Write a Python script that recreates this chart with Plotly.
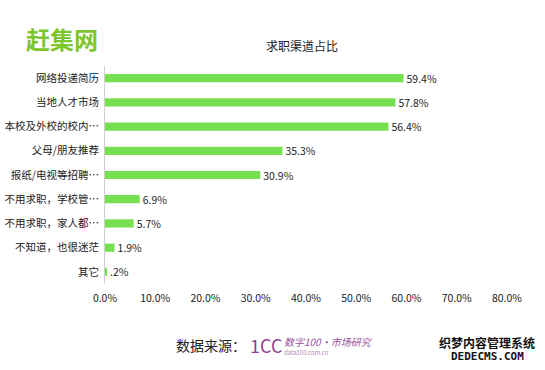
import plotly.graph_objects as go

categories = ["网络投递简历", "当地人才市场", "本校及外校的校内…", "父母/朋友推荐", "报纸/电视等招聘…",
              "不用求职，学校管…", "不用求职，家人都…", "不知道，也很迷茫", "其它"]
values = [59.4, 57.8, 56.4, 35.3, 30.9, 6.9, 5.7, 1.9, 0.2]
labels = ["59.4%", "57.8%", "56.4%", "35.3%", "30.9%", "6.9%", "5.7%", "1.9%", ".2%"]
tick_vals = [0, 10, 20, 30, 40, 50, 60, 70, 80]
tick_text = ["0.0%", "10.0%", "20.0%", "30.0%", "40.0%", "50.0%", "60.0%", "70.0%", "80.0%"]

FONT = "Noto Sans CJK SC, Microsoft YaHei, sans-serif"

L, R, T, B = 105, 38, 66, 86
W, H = 545, 370

fig = go.Figure(go.Bar(
    x=values, y=categories, orientation="h",
    marker=dict(color="#76E050", line=dict(width=0)),
    text=labels, textposition="outside", cliponaxis=False, constraintext="none",
    textfont=dict(size=10.5, color="#222222", family=FONT),
    width=0.34,
))

fig.update_layout(
    width=W, height=H,
    margin=dict(l=L, r=R, t=T, b=B, autoexpand=False),
    paper_bgcolor="white", plot_bgcolor="white",
    showlegend=False,
    font=dict(family=FONT, size=10.5, color="#222222"),
    xaxis=dict(range=[0, 80], tickvals=tick_vals, ticktext=tick_text, showgrid=False,
               zeroline=False, showline=False, ticks="", tickfont=dict(size=10.5),
               automargin=False, ticklabelstandoff=6),
    yaxis=dict(autorange="reversed", showgrid=False, zeroline=False,
               showline=True, linecolor="#D0D0D0", linewidth=1, ticks="",
               tickfont=dict(size=10.5), automargin=False, ticklabelstandoff=3),
)

pw = W - L - R
ph = H - T - B
def px(x): return (x - L) / pw
def py(y): return (H - B - y) / ph

fig.add_annotation(text="求职渠道占比", x=px(302), y=py(45), xref="paper", yref="paper", showarrow=False,
                   font=dict(size=12, color="#222222", family=FONT), xanchor="center", yanchor="middle")
fig.add_annotation(text="<b>赶集网</b>", x=px(24), y=py(38), xref="paper", yref="paper", showarrow=False,
                   font=dict(size=24, color="#7DC62E", family=FONT), xanchor="left", yanchor="middle")
fig.add_annotation(text="数据来源：", x=px(174), y=py(345), xref="paper", yref="paper", showarrow=False,
                   font=dict(size=14, color="#222222", family=FONT), xanchor="left", yanchor="middle")
fig.add_annotation(text="1CC", x=px(248), y=py(345), xref="paper", yref="paper", showarrow=False,
                   font=dict(size=18, color="#8E3F8E", family=FONT), xanchor="left", yanchor="middle")
fig.add_annotation(text="<i>数字100·市场研究</i>", x=px(282), y=py(341), xref="paper", yref="paper", showarrow=False,
                   font=dict(size=10, color="#9A4F9A", family=FONT), xanchor="left", yanchor="middle")
fig.add_annotation(text="data100.com.cn", x=px(282), y=py(352), xref="paper", yref="paper", showarrow=False,
                   font=dict(size=6, color="#B08AB0", family=FONT), xanchor="left", yanchor="middle")
fig.add_annotation(text="<b>织梦内容管理系统</b>", x=px(487), y=py(342), xref="paper", yref="paper", showarrow=False,
                   font=dict(size=12, color="#111111", family=FONT), xanchor="center", yanchor="middle")
fig.add_annotation(text="<b>DEDECMS.COM</b>", x=px(487), y=py(356), xref="paper", yref="paper", showarrow=False,
                   font=dict(size=11, color="#111111", family="DejaVu Sans Mono, monospace"), xanchor="center", yanchor="middle")

fig.write_html("out.html", config={"displayModeBar": False})

# remove default body margin so the figure sits at the page origin
with open("out.html", "r", encoding="utf-8") as f:
    html = f.read()
html = html.replace("<head>", "<head><style>html,body{margin:0;padding:0;overflow:hidden;}</style>", 1)
with open("out.html", "w", encoding="utf-8") as f:
    f.write(html)
